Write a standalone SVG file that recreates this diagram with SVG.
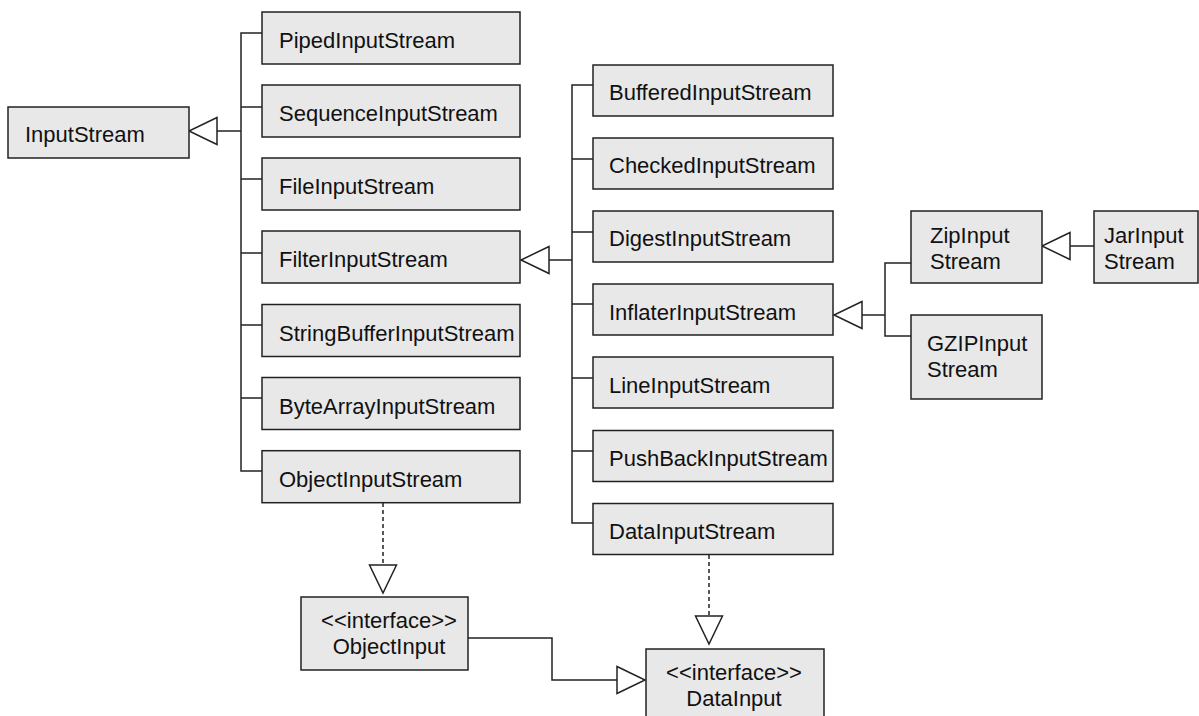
<svg xmlns="http://www.w3.org/2000/svg" width="1199" height="716" viewBox="0 0 1199 716">
<style>
.box{fill:#e8e8e8;stroke:#222;stroke-width:1.5}
.t{font-family:"Liberation Sans",Arial,sans-serif;font-size:22px;fill:#111}
.c{text-anchor:middle}
.ln{fill:none;stroke:#222;stroke-width:1.5}
.dash{stroke-dasharray:4 3}
.inh{marker-end:url(#tri)}
</style>
<defs>
<marker id="tri" viewBox="0 0 28 27" refX="28" refY="13.5" markerWidth="28" markerHeight="27" markerUnits="userSpaceOnUse" orient="auto" overflow="visible">
<path d="M0,0 L28,13.5 L0,27 Z" fill="#fff" stroke="#222" stroke-width="1.5" stroke-dasharray="none"/>
</marker>
</defs>
<rect width="1199" height="716" fill="#fff"/>
<g id="connectors">
<path class="ln" d="M262,33 H241 V471 H262 M241,107 H262 M241,179 H262 M241,253 H262 M241,325 H262 M241,398 H262"/>
<path class="ln inh" d="M241,131 H189"/>
<path class="ln" d="M593,85 H572 V523 H593 M572,159 H593 M572,232 H593 M572,304 H593 M572,378 H593 M572,451 H593"/>
<path class="ln inh" d="M572,260 H521"/>
<path class="ln" d="M911,263 H885 V336 H911"/>
<path class="ln inh" d="M885,315 H834"/>
<path class="ln inh" d="M1094,246 H1042"/>
<path class="ln dash inh" d="M383,503 V593"/>
<path class="ln dash inh" d="M709,555 V644"/>
<path class="ln inh" d="M468,638 H552 V680 H645"/>
</g>
<g id="InputStream"><rect class="box" x="8" y="107" width="181" height="51"/><text class="t" x="25" y="142">InputStream</text></g>
<g id="PipedInputStream"><rect class="box" x="262" y="12" width="258" height="52"/><text class="t" x="279" y="48">PipedInputStream</text></g>
<g id="SequenceInputStream"><rect class="box" x="262" y="85" width="258" height="52"/><text class="t" x="279" y="121">SequenceInputStream</text></g>
<g id="FileInputStream"><rect class="box" x="262" y="158" width="258" height="52"/><text class="t" x="279" y="194">FileInputStream</text></g>
<g id="FilterInputStream"><rect class="box" x="262" y="231" width="258" height="52"/><text class="t" x="279" y="267">FilterInputStream</text></g>
<g id="StringBufferInputStream"><rect class="box" x="262" y="304.5" width="258" height="52"/><text class="t" x="279" y="340.5">StringBufferInputStream</text></g>
<g id="ByteArrayInputStream"><rect class="box" x="262" y="377.5" width="258" height="52"/><text class="t" x="279" y="413.5">ByteArrayInputStream</text></g>
<g id="ObjectInputStream"><rect class="box" x="262" y="450.7" width="258" height="52"/><text class="t" x="279" y="486.5">ObjectInputStream</text></g>
<g id="BufferedInputStream"><rect class="box" x="593" y="65" width="240" height="51"/><text class="t" x="609" y="100">BufferedInputStream</text></g>
<g id="CheckedInputStream"><rect class="box" x="593" y="138" width="240" height="51"/><text class="t" x="609" y="173">CheckedInputStream</text></g>
<g id="DigestInputStream"><rect class="box" x="593" y="211" width="240" height="51"/><text class="t" x="609" y="246">DigestInputStream</text></g>
<g id="InflaterInputStream"><rect class="box" x="593" y="284" width="240" height="51"/><text class="t" x="609" y="320">InflaterInputStream</text></g>
<g id="LineInputStream"><rect class="box" x="593" y="357" width="240" height="51"/><text class="t" x="609" y="393">LineInputStream</text></g>
<g id="PushBackInputStream"><rect class="box" x="593" y="430.5" width="240" height="51"/><text class="t" x="609" y="466">PushBackInputStream</text></g>
<g id="DataInputStream"><rect class="box" x="593" y="503.5" width="240" height="51"/><text class="t" x="609" y="539">DataInputStream</text></g>
<g id="ZipInputStream"><rect class="box" x="911" y="211" width="131" height="72"/><text class="t" x="930" y="243">ZipInput</text><text class="t" x="930" y="269">Stream</text></g>
<g id="JarInputStream"><rect class="box" x="1094" y="211" width="104" height="72"/><text class="t" x="1104" y="243">JarInput</text><text class="t" x="1104" y="269">Stream</text></g>
<g id="GZIPInputStream"><rect class="box" x="911" y="315" width="131" height="84"/><text class="t" x="927" y="351">GZIPInput</text><text class="t" x="927" y="377">Stream</text></g>
<g id="ObjectInput"><rect class="box" x="301" y="597" width="167" height="73"/><text class="t c" x="389" y="628">&lt;&lt;interface&gt;&gt;</text><text class="t c" x="389" y="654">ObjectInput</text></g>
<g id="DataInput"><rect class="box" x="646" y="649" width="178" height="80"/><text class="t c" x="734" y="680">&lt;&lt;interface&gt;&gt;</text><text class="t c" x="734" y="706">DataInput</text></g>
</svg>
